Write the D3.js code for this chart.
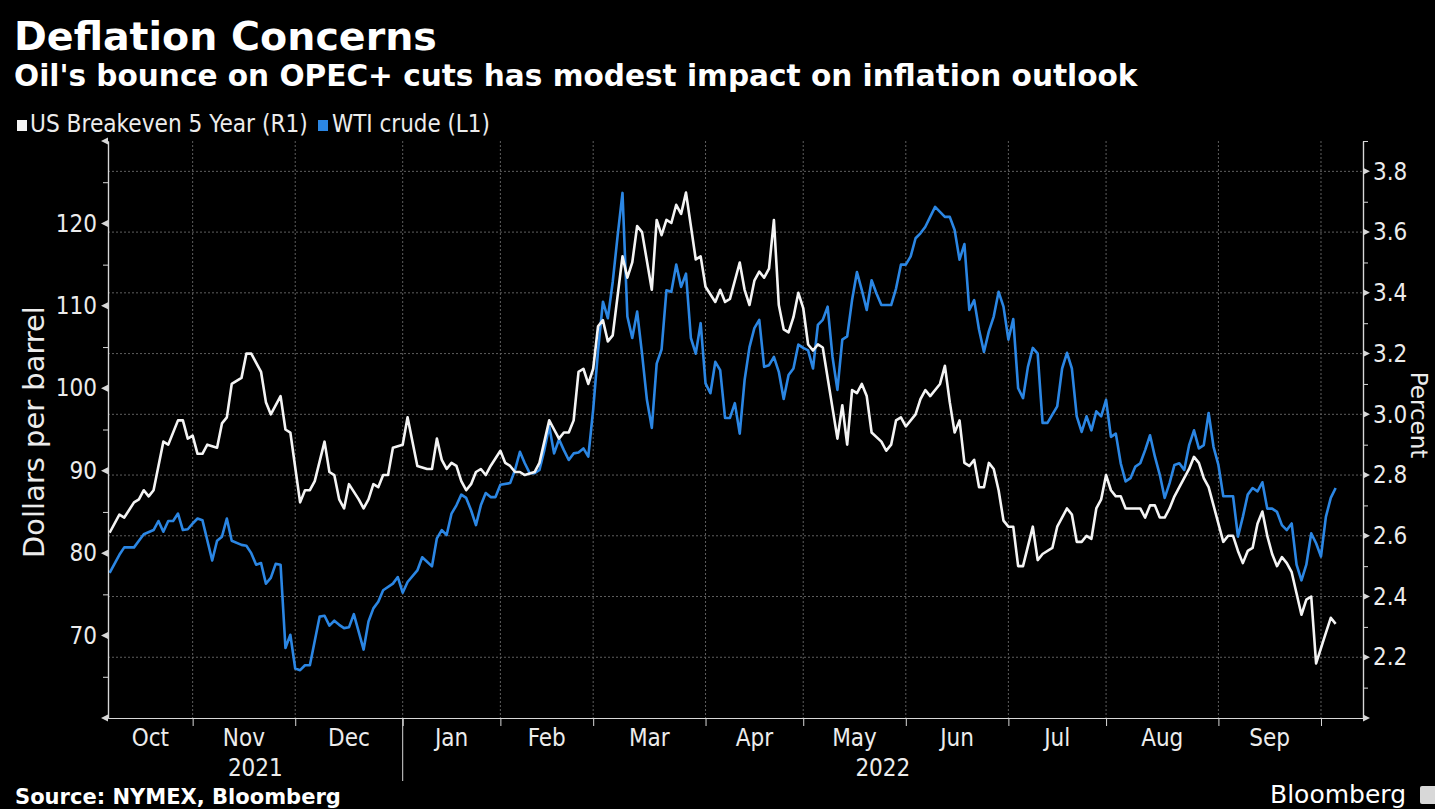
<!DOCTYPE html>
<html>
<head>
<meta charset="utf-8">
<script src="https://cdn.jsdelivr.net/npm/d3@7"></script>
<style>
  html, body { margin: 0; padding: 0; background: #000; overflow: hidden; }
  svg { display: block; }
  text { font-family: "DejaVu Sans Condensed", "DejaVu Sans", sans-serif; fill: #ececec; }
</style>
</head>
<body>
<div id="chart"></div>
<script>
// US Breakeven 5 Year (right axis, percent)
var beDates = [
  "2021-10-06","2021-10-08","2021-10-11","2021-10-13","2021-10-14","2021-10-15","2021-10-18","2021-10-19",
  "2021-10-21","2021-10-22","2021-10-26","2021-10-27","2021-10-28","2021-10-29","2021-11-01","2021-11-02",
  "2021-11-03","2021-11-05","2021-11-08","2021-11-09","2021-11-10","2021-11-12","2021-11-15","2021-11-16",
  "2021-11-18","2021-11-19","2021-11-22","2021-11-24","2021-11-26","2021-11-29","2021-12-01","2021-12-02",
  "2021-12-03","2021-12-06","2021-12-08","2021-12-09","2021-12-10","2021-12-13","2021-12-14","2021-12-15",
  "2021-12-17","2021-12-20","2021-12-21","2021-12-22","2021-12-23","2021-12-27","2021-12-28","2021-12-29",
  "2021-12-31","2022-01-03","2022-01-05","2022-01-07","2022-01-10","2022-01-11","2022-01-12","2022-01-13",
  "2022-01-14","2022-01-18","2022-01-19","2022-01-20","2022-01-21","2022-01-24","2022-01-25","2022-01-26",
  "2022-01-27","2022-01-31","2022-02-01","2022-02-02","2022-02-03","2022-02-04","2022-02-07","2022-02-09",
  "2022-02-10","2022-02-14","2022-02-15","2022-02-16","2022-02-17","2022-02-18","2022-02-22","2022-02-23",
  "2022-02-24","2022-02-25","2022-02-28","2022-03-01","2022-03-02","2022-03-03","2022-03-04","2022-03-08",
  "2022-03-09","2022-03-10","2022-03-11","2022-03-14","2022-03-16","2022-03-17","2022-03-18","2022-03-21",
  "2022-03-22","2022-03-23","2022-03-24","2022-03-25","2022-03-28","2022-03-29","2022-03-30","2022-03-31",
  "2022-04-04","2022-04-05","2022-04-06","2022-04-07","2022-04-11","2022-04-12","2022-04-13","2022-04-14",
  "2022-04-18","2022-04-19","2022-04-20","2022-04-21","2022-04-22","2022-04-25","2022-04-26","2022-04-27",
  "2022-04-28","2022-04-29","2022-05-02","2022-05-03","2022-05-04","2022-05-05","2022-05-10","2022-05-11",
  "2022-05-12","2022-05-13","2022-05-16","2022-05-17","2022-05-18","2022-05-19","2022-05-23","2022-05-24",
  "2022-05-25","2022-05-26","2022-05-27","2022-05-31","2022-06-02","2022-06-03","2022-06-06","2022-06-07",
  "2022-06-09","2022-06-10","2022-06-13","2022-06-14","2022-06-15","2022-06-16","2022-06-17","2022-06-21",
  "2022-06-22","2022-06-23","2022-06-24","2022-06-27","2022-06-28","2022-06-29","2022-06-30","2022-07-01",
  "2022-07-05","2022-07-06","2022-07-08","2022-07-11","2022-07-12","2022-07-14","2022-07-15","2022-07-19",
  "2022-07-20","2022-07-21","2022-07-22","2022-07-25","2022-07-26","2022-07-27","2022-07-28","2022-07-29",
  "2022-08-01","2022-08-02","2022-08-03","2022-08-04","2022-08-05","2022-08-08","2022-08-09","2022-08-10",
  "2022-08-11","2022-08-12","2022-08-15","2022-08-16","2022-08-17","2022-08-18","2022-08-19","2022-08-23",
  "2022-08-24","2022-08-25","2022-08-26","2022-08-29","2022-08-30","2022-09-01","2022-09-02","2022-09-06",
  "2022-09-07","2022-09-08","2022-09-09","2022-09-12","2022-09-13","2022-09-14","2022-09-15","2022-09-16",
  "2022-09-19","2022-09-20","2022-09-21","2022-09-22","2022-09-23","2022-09-26","2022-09-27","2022-09-28",
  "2022-09-29","2022-10-03","2022-10-04","2022-10-05"
];
var beValues = [
  2.61,2.67,2.66,2.71,2.72,2.75,2.73,2.75,
  2.91,2.90,2.98,2.98,2.92,2.93,2.87,2.87,
  2.90,2.89,2.97,2.99,3.10,3.12,3.20,3.20,
  3.14,3.04,3.00,3.06,2.95,2.94,2.71,2.75,
  2.75,2.78,2.91,2.81,2.80,2.72,2.69,2.77,
  2.72,2.69,2.72,2.77,2.76,2.80,2.80,2.89,
  2.90,2.99,2.83,2.82,2.82,2.92,2.85,2.82,
  2.84,2.83,2.78,2.75,2.77,2.81,2.82,2.80,
  2.83,2.88,2.84,2.83,2.81,2.81,2.80,2.81,
  2.84,2.98,2.95,2.92,2.94,2.94,2.98,3.14,
  3.15,3.10,3.15,3.29,3.31,3.24,3.26,3.52,
  3.45,3.50,3.62,3.60,3.41,3.64,3.59,3.64,
  3.63,3.69,3.66,3.73,3.62,3.51,3.52,3.42,
  3.37,3.41,3.37,3.38,3.50,3.41,3.36,3.44,
  3.47,3.45,3.48,3.64,3.36,3.28,3.27,3.32,
  3.40,3.35,3.23,3.21,3.23,3.22,2.92,3.03,
  2.90,3.08,3.07,3.10,3.06,2.94,2.91,2.88,
  2.90,2.98,2.99,2.96,3.00,3.05,3.08,3.06,
  3.10,3.16,3.04,2.94,2.98,2.84,2.83,2.85,
  2.76,2.76,2.84,2.82,2.75,2.65,2.63,2.63,
  2.50,2.50,2.63,2.52,2.54,2.56,2.63,2.69,
  2.67,2.58,2.58,2.60,2.59,2.69,2.72,2.80,
  2.75,2.73,2.73,2.69,2.69,2.69,2.69,2.66,
  2.70,2.70,2.66,2.66,2.69,2.73,2.76,2.82,
  2.86,2.84,2.79,2.76,2.70,2.58,2.60,2.60,
  2.55,2.51,2.55,2.56,2.64,2.68,2.60,2.54,
  2.50,2.53,2.51,2.48,2.41,2.34,2.39,2.40,
  2.18,2.28,2.33,2.31
];

// WTI crude (left axis, dollars per barrel)
var wtiDates = [
  "2021-10-06","2021-10-08","2021-10-11","2021-10-13","2021-10-14","2021-10-15","2021-10-19","2021-10-20",
  "2021-10-21","2021-10-22","2021-10-25","2021-10-26","2021-10-27","2021-10-28","2021-10-29","2021-11-01",
  "2021-11-02","2021-11-04","2021-11-05","2021-11-08","2021-11-09","2021-11-10","2021-11-12","2021-11-15",
  "2021-11-16","2021-11-17","2021-11-18","2021-11-19","2021-11-22","2021-11-23","2021-11-24","2021-11-26",
  "2021-11-29","2021-11-30","2021-12-01","2021-12-02","2021-12-03","2021-12-07","2021-12-08","2021-12-09",
  "2021-12-10","2021-12-13","2021-12-14","2021-12-15","2021-12-16","2021-12-20","2021-12-21","2021-12-22",
  "2021-12-23","2021-12-27","2021-12-29","2021-12-30","2021-12-31","2022-01-03","2022-01-05","2022-01-06",
  "2022-01-10","2022-01-11","2022-01-12","2022-01-13","2022-01-14","2022-01-18","2022-01-19","2022-01-20",
  "2022-01-21","2022-01-24","2022-01-25","2022-01-26","2022-01-27","2022-01-28","2022-01-31","2022-02-02",
  "2022-02-03","2022-02-04","2022-02-07","2022-02-08","2022-02-09","2022-02-10","2022-02-11","2022-02-14",
  "2022-02-15","2022-02-16","2022-02-17","2022-02-18","2022-02-22","2022-02-23","2022-02-24","2022-02-25",
  "2022-02-28","2022-03-01","2022-03-02","2022-03-03","2022-03-04","2022-03-07","2022-03-08","2022-03-09",
  "2022-03-10","2022-03-11","2022-03-14","2022-03-15","2022-03-16","2022-03-17","2022-03-18","2022-03-21",
  "2022-03-22","2022-03-23","2022-03-24","2022-03-25","2022-03-28","2022-03-29","2022-03-30","2022-03-31",
  "2022-04-01","2022-04-04","2022-04-05","2022-04-06","2022-04-07","2022-04-08","2022-04-11","2022-04-12",
  "2022-04-13","2022-04-14","2022-04-18","2022-04-19","2022-04-20","2022-04-21","2022-04-22","2022-04-25",
  "2022-04-26","2022-04-27","2022-04-28","2022-04-29","2022-05-02","2022-05-03","2022-05-04","2022-05-05",
  "2022-05-06","2022-05-09","2022-05-10","2022-05-11","2022-05-12","2022-05-13","2022-05-16","2022-05-17",
  "2022-05-18","2022-05-19","2022-05-20","2022-05-23","2022-05-25","2022-05-26","2022-05-27","2022-05-31",
  "2022-06-01","2022-06-02","2022-06-03","2022-06-06","2022-06-08","2022-06-09","2022-06-10","2022-06-13",
  "2022-06-14","2022-06-15","2022-06-16","2022-06-17","2022-06-21","2022-06-22","2022-06-23","2022-06-24",
  "2022-06-27","2022-06-28","2022-06-29","2022-06-30","2022-07-01","2022-07-05","2022-07-06","2022-07-07",
  "2022-07-08","2022-07-11","2022-07-12","2022-07-13","2022-07-15","2022-07-18","2022-07-19","2022-07-20",
  "2022-07-21","2022-07-22","2022-07-25","2022-07-26","2022-07-27","2022-07-28","2022-07-29","2022-08-01",
  "2022-08-02","2022-08-03","2022-08-04","2022-08-05","2022-08-08","2022-08-09","2022-08-10","2022-08-11",
  "2022-08-12","2022-08-15","2022-08-16","2022-08-17","2022-08-18","2022-08-19","2022-08-22","2022-08-23",
  "2022-08-24","2022-08-25","2022-08-26","2022-08-29","2022-08-30","2022-08-31","2022-09-01","2022-09-02",
  "2022-09-06","2022-09-07","2022-09-08","2022-09-09","2022-09-12","2022-09-13","2022-09-14","2022-09-15",
  "2022-09-16","2022-09-19","2022-09-20","2022-09-21","2022-09-22","2022-09-23","2022-09-26","2022-09-27",
  "2022-09-28","2022-09-29","2022-09-30","2022-10-03","2022-10-04","2022-10-05"
];
var wtiValues = [
  77.6,79.8,80.7,80.7,81.5,82.3,82.8,83.9,
  82.6,83.9,83.9,84.8,82.8,82.9,83.6,84.2,
  84.0,79.1,81.5,82.0,84.2,81.5,81.0,80.9,
  80.0,78.6,78.8,76.3,77.0,78.7,78.6,68.5,
  70.1,66.0,65.8,66.4,66.4,72.3,72.4,71.2,
  71.8,71.3,70.9,71.0,72.6,68.3,71.7,73.3,
  74.1,75.5,76.3,77.1,75.2,76.5,77.9,79.5,
  78.4,81.8,82.8,82.2,84.8,85.8,87.1,86.7,
  85.2,83.4,85.8,87.3,86.8,86.8,88.3,88.5,
  90.1,92.3,90.9,89.7,89.7,90.1,92.5,95.4,
  92.1,93.8,92.5,91.3,92.1,92.2,92.7,91.7,
  97.4,104.6,110.5,108.5,112.9,118.5,123.7,108.7,
  106.1,109.3,104.2,98.6,95.2,103.0,104.7,111.9,
  111.7,115.0,112.3,113.9,106.1,104.2,107.9,100.6,
  99.4,103.2,102.2,96.4,96.4,98.2,94.5,101.0,
  105.0,107.3,108.3,102.6,102.8,103.8,102.0,98.7,
  101.6,102.4,105.3,104.9,104.6,102.4,107.7,108.3,
  109.9,103.8,99.8,105.9,106.3,110.7,114.1,111.9,
  109.5,113.1,111.5,110.1,110.1,112.1,115.0,115.0,
  116.0,118.2,118.8,119.6,122.0,121.4,120.8,120.8,
  119.2,115.6,117.5,109.5,110.7,107.1,104.4,106.9,
  108.7,111.7,109.9,105.9,108.4,100.0,98.8,102.6,
  104.9,104.2,95.8,95.8,97.8,102.4,104.3,102.4,
  96.6,94.7,96.6,94.9,97.2,96.6,98.6,94.1,
  94.5,90.9,88.7,89.1,90.5,90.9,92.5,94.3,
  91.7,89.5,86.7,88.5,90.7,90.9,90.1,93.1,
  94.9,92.7,93.1,97.0,92.9,90.7,86.9,86.9,
  86.9,82.0,84.4,87.1,87.9,87.5,88.6,85.4,
  85.4,85.0,83.4,82.8,83.6,78.6,76.7,78.6,
  82.4,81.2,79.6,84.4,86.7,87.9
];

// market holidays: no point on the time axis
var holidays = ["2021-11-25","2021-12-24","2022-01-17","2022-02-21","2022-04-15",
                "2022-05-30","2022-06-20","2022-07-04","2022-09-05"];

var monthLabels = ["Oct","Nov","Dec","Jan","Feb","Mar","Apr","May","Jun","Jul","Aug","Sep"];
var yearLabels = ["2021","2022"];
var oilTicks = [60,70,80,90,100,110,120,130];
var oilMinor = [65,75,85,95,105,115,125];
var beTicks = [2.0,2.2,2.4,2.6,2.8,3.0,3.2,3.4,3.6,3.8];
var beMinor = [2.1,2.3,2.5,2.7,2.9,3.1,3.3,3.5,3.7,3.9];

const width = 1435;
const height = 809;
const plotLeft = 108;
const plotRight = 1363;
const plotTop = 141;
const plotBottom = 718;

const axisColor = "#d8d8d8";
const gridColor = "#5e5e5e";
const oilColor = "#2b86e3";
const beColor = "#f4f4f4";

var parseDay = d3.timeParse("%Y-%m-%d");
var fmtDay = d3.timeFormat("%Y-%m-%d");

// trading-day calendar: the x axis skips weekends and holidays
var tradingDays = d3.timeDay.range(parseDay("2021-10-06"), parseDay("2022-10-25"))
  .filter(function(d) {
    var w = d.getDay();
    return w !== 0 && w !== 6 && holidays.indexOf(fmtDay(d)) < 0;
  });
var dayIndex = {};
tradingDays.forEach(function(d, i) { dayIndex[fmtDay(d)] = i; });

var x = d3.scaleLinear().domain([-0.33, 256.6]).range([plotLeft, plotRight]);
var yOil = d3.scaleLinear().domain([60, 130]).range([plotBottom, plotTop]);
var yBe = d3.scaleLinear().domain([2.0, 3.9]).range([plotBottom, plotTop]);

var svg = d3.select("#chart").append("svg")
  .attr("width", width)
  .attr("height", height);

svg.append("rect").attr("width", width).attr("height", height).attr("fill", "#000");

function fitWidth(sel, target) {
  var w = sel.node().getComputedTextLength();
  var fs = parseFloat(sel.style("font-size"));
  sel.style("font-size", (fs * target / w) + "px");
}

// ---- titles
var title = svg.append("text")
  .attr("x", 14).attr("y", 50)
  .style("font-family", "'DejaVu Sans', sans-serif")
  .style("font-weight", "bold")
  .style("font-size", "38px")
  .style("fill", "#fff")
  .text("Deflation Concerns");
fitWidth(title, 423);

var subtitle = svg.append("text")
  .attr("x", 14).attr("y", 86)
  .style("font-family", "'DejaVu Sans', sans-serif")
  .style("font-weight", "bold")
  .style("font-size", "26px")
  .style("fill", "#fff")
  .text("Oil's bounce on OPEC+ cuts has modest impact on inflation outlook");
fitWidth(subtitle, 1124);

// ---- legend
svg.append("rect").attr("x", 17).attr("y", 120).attr("width", 10).attr("height", 11).attr("fill", beColor);
var leg1 = svg.append("text").attr("x", 30).attr("y", 132)
  .style("font-size", "19px").text("US Breakeven 5 Year (R1)");
fitWidth(leg1, 278);
svg.append("rect").attr("x", 318).attr("y", 120).attr("width", 10).attr("height", 11).attr("fill", oilColor);
var leg2 = svg.append("text").attr("x", 332).attr("y", 132)
  .style("font-size", "19px").text("WTI crude (L1)");
fitWidth(leg2, 158);

// ---- month boundaries (last trading day of each month)
var monthStarts = d3.timeMonth.range(parseDay("2021-11-01"), parseDay("2022-10-02"));
var boundaryIdx = monthStarts.map(function(m) { return d3.bisectLeft(tradingDays, m) - 1; });
var boundaryX = [plotLeft].concat(boundaryIdx.map(function(i) { return x(i); }));

// ---- grid
svg.append("g").selectAll("line")
  .data(beTicks.filter(function(v) { return v > 2.0; }))
  .enter().append("line")
  .attr("x1", plotLeft).attr("x2", plotRight)
  .attr("y1", function(d) { return yBe(d); })
  .attr("y2", function(d) { return yBe(d); })
  .attr("stroke", gridColor).attr("stroke-width", 1).attr("stroke-dasharray", "2,2");

svg.append("g").selectAll("line")
  .data(boundaryIdx)
  .enter().append("line")
  .attr("x1", function(d) { return x(d); })
  .attr("x2", function(d) { return x(d); })
  .attr("y1", plotTop).attr("y2", plotBottom)
  .attr("stroke", gridColor).attr("stroke-width", 1).attr("stroke-dasharray", "2,2");

// ---- series
var oilData = wtiDates.map(function(d, i) { return { date: d, value: wtiValues[i] }; });
var beData = beDates.map(function(d, i) { return { date: d, value: beValues[i] }; });

var oilLine = d3.line()
  .x(function(d) { return x(dayIndex[d.date]); })
  .y(function(d) { return yOil(d.value); });
var beLine = d3.line()
  .x(function(d) { return x(dayIndex[d.date]); })
  .y(function(d) { return yBe(d.value); });

svg.append("path").datum(oilData)
  .attr("d", oilLine)
  .attr("fill", "none").attr("stroke", oilColor)
  .attr("stroke-width", 2.6).attr("stroke-linejoin", "round");

svg.append("path").datum(beData)
  .attr("d", beLine)
  .attr("fill", "none").attr("stroke", beColor)
  .attr("stroke-width", 2.6).attr("stroke-linejoin", "round");

function styleAxis(g) {
  g.selectAll(".domain").attr("stroke", axisColor).attr("stroke-width", 1.2);
  g.selectAll(".tick line").attr("stroke", axisColor);
  g.selectAll(".tick text")
    .attr("fill", "#ececec")
    .style("font-size", "24px")
    .style("font-family", "'DejaVu Sans Condensed', sans-serif");
}

// ---- left axis (labels, minor ticks, triangle markers)
var gL = svg.append("g").attr("transform", "translate(" + plotLeft + ",0)");
gL.call(d3.axisLeft(yOil).tickValues(oilTicks).tickSize(0).tickPadding(11)
  .tickFormat(function(d) { return (d === 60 || d === 130) ? "" : d; }));
styleAxis(gL);
var gLm = svg.append("g").attr("transform", "translate(" + plotLeft + ",0)");
gLm.call(d3.axisLeft(yOil).tickValues(oilMinor).tickSize(5).tickSizeOuter(0).tickFormat(""));
styleAxis(gLm);
gL.selectAll("path.tri").data(oilTicks).enter().append("path")
  .attr("class", "tri")
  .attr("d", function(d) { var y = yOil(d); return "M0," + (y - 3.5) + "L-7," + y + "L0," + (y + 3.5) + "Z"; })
  .attr("fill", axisColor);

// ---- right axis
var gR = svg.append("g").attr("transform", "translate(" + plotRight + ",0)");
gR.call(d3.axisRight(yBe).tickValues(beTicks).tickSize(0).tickPadding(10)
  .tickFormat(function(d) { return d === 2.0 ? "" : d3.format(".1f")(d); }));
styleAxis(gR);
var gRm = svg.append("g").attr("transform", "translate(" + plotRight + ",0)");
gRm.call(d3.axisRight(yBe).tickValues(beMinor).tickSize(5).tickSizeOuter(0).tickFormat(""));
styleAxis(gRm);
gR.selectAll("path.tri").data(beTicks).enter().append("path")
  .attr("class", "tri")
  .attr("d", function(d) { var y = yBe(d); return "M0," + (y - 3.5) + "L7," + y + "L0," + (y + 3.5) + "Z"; })
  .attr("fill", axisColor);

// ---- bottom axis
var gB = svg.append("g").attr("transform", "translate(0," + plotBottom + ")");
gB.call(d3.axisBottom(x).tickValues(boundaryIdx).tickSize(8).tickSizeOuter(0).tickFormat(""));
styleAxis(gB);

svg.append("g").selectAll("text")
  .data(monthLabels)
  .enter().append("text")
  .attr("x", function(d, i) { return (boundaryX[i] + boundaryX[i + 1]) / 2; })
  .attr("y", 746)
  .attr("text-anchor", "middle")
  .style("font-size", "24px")
  .text(function(d) { return d; });

// year labels and separator at the turn of the year
var janX = boundaryX[3];
svg.append("line")
  .attr("x1", janX).attr("x2", janX)
  .attr("y1", plotBottom).attr("y2", 781)
  .attr("stroke", axisColor).attr("stroke-width", 1);
var yearSpans = [[plotLeft, janX], [janX, plotRight]];
svg.append("g").selectAll("text")
  .data(yearLabels)
  .enter().append("text")
  .attr("x", function(d, i) { return (yearSpans[i][0] + yearSpans[i][1]) / 2; })
  .attr("y", 776)
  .attr("text-anchor", "middle")
  .style("font-size", "24px")
  .text(function(d) { return d; });

// ---- axis titles
var leftTitle = svg.append("text")
  .attr("transform", "translate(44,432) rotate(-90)")
  .attr("text-anchor", "middle")
  .style("font-family", "'DejaVu Sans', sans-serif")
  .style("font-size", "27px")
  .text("Dollars per barrel");
fitWidth(leftTitle, 252);

svg.append("text")
  .attr("transform", "translate(1411,415) rotate(90)")
  .attr("text-anchor", "middle")
  .style("font-family", "'DejaVu Sans', sans-serif")
  .style("font-size", "23px")
  .text("Percent");

// ---- footer
var source = svg.append("text")
  .attr("x", 15).attr("y", 804)
  .style("font-family", "'DejaVu Sans', sans-serif")
  .style("font-weight", "bold")
  .style("font-size", "19px")
  .style("fill", "#fff")
  .text("Source: NYMEX, Bloomberg");
fitWidth(source, 326);

var brand = svg.append("text")
  .attr("x", 1270).attr("y", 803)
  .style("font-family", "'DejaVu Sans', sans-serif")
  .style("font-size", "25px")
  .style("fill", "#fff")
  .text("Bloomberg");
fitWidth(brand, 136);
svg.append("rect").attr("x", 1420).attr("y", 786).attr("width", 18).attr("height", 18)
  .attr("rx", 2).attr("fill", "#d8d8d8");
</script>
</body>
</html>
